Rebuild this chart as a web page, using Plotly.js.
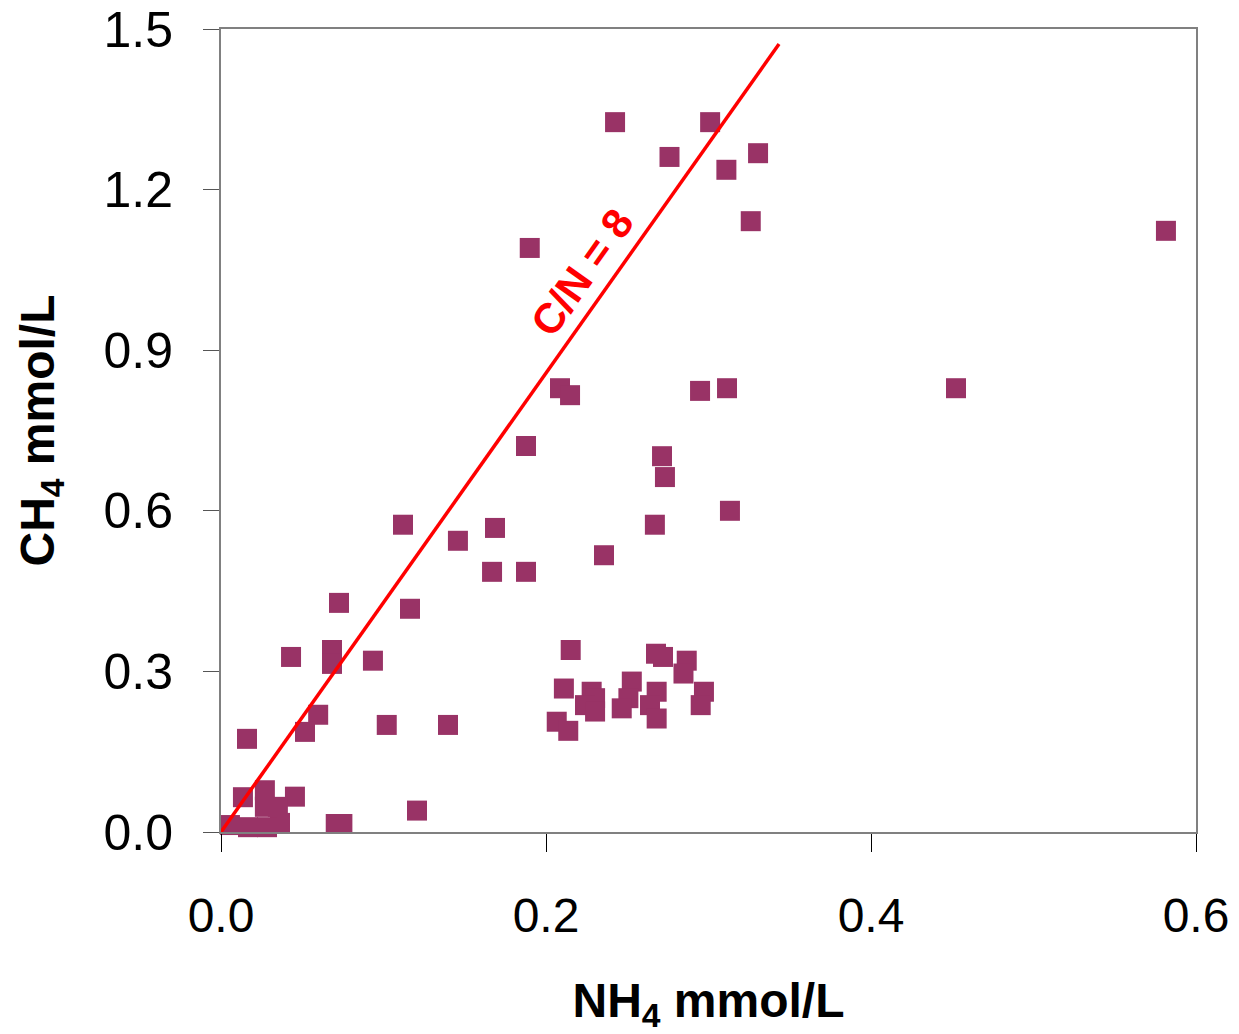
<!DOCTYPE html>
<html>
<head>
<meta charset="utf-8">
<script src="https://cdn.plot.ly/plotly-3.0.1.min.js"></script>
<style>html,body{margin:0;padding:0;background:#fff;}#chart{width:1239px;height:1034px;}</style>
</head>
<body>
<div id="chart"></div>
<script>
const nh4 = [0.2425,0.301,0.276,0.3305,0.311,0.326,0.190,0.5815,0.2086,0.2148,0.2948,0.3114,0.4523,0.1877,0.2714,0.2732,0.112,0.267,0.3132,0.1458,0.1686,0.2357,0.1668,0.1877,0.0726,0.1163,0.0431,0.0683,0.0683,0.0935,0.2152,0.2677,0.2720,0.2866,0.2846,0.211,0.2281,0.2302,0.2240,0.2302,0.2528,0.2507,0.2466,0.2681,0.2640,0.2681,0.2972,0.2952,0.2066,0.2137,0.0598,0.0517,0.1020,0.1397,0.0160,0.0455,0.1206,0.0706,0.0747,0.0055,0.0135,0.027,0.027,0.035,0.0363,0.0166,0.0283];
const ch4 = [1.326,1.326,1.261,1.268,1.237,1.141,1.091,1.123,0.829,0.816,0.824,0.829,0.829,0.721,0.702,0.663,0.574,0.574,0.600,0.544,0.568,0.517,0.486,0.486,0.428,0.417,0.327,0.340,0.314,0.320,0.340,0.333,0.327,0.320,0.296,0.268,0.262,0.250,0.237,0.225,0.281,0.250,0.231,0.262,0.237,0.212,0.262,0.237,0.206,0.189,0.219,0.187,0.200,0.200,0.174,0.066,0.040,0.015,0.015,0.013,0.065,0.078,0.047,0.047,0.017,0.009,0.009];
const lineX = [0, 0.3434];
const lineY = [0, 1.472];
const lineLabel = 'C/N = 8';
const xTitle = 'NH<sub>4</sub> mmol/L';
const yTitle = 'CH<sub>4</sub> mmol/L';

const font = 'Liberation Sans, Arial, sans-serif';
const data = [
  {x: nh4, y: ch4, type: 'scatter', mode: 'markers', cliponaxis: false,
   marker: {symbol: 'square', size: 20, color: '#993366', line: {width: 0}}, hoverinfo: 'x+y'},
  {x: lineX, y: lineY, type: 'scatter', mode: 'lines', cliponaxis: false,
   line: {color: '#ff0000', width: 3.5}}
];
const layout = {
  width: 1239, height: 1034,
  margin: {l: 221, r: 43, t: 29, b: 202},
  paper_bgcolor: '#fff', plot_bgcolor: '#fff',
  showlegend: false,
  font: {family: font, color: '#000'},
  xaxis: {
    range: [0, 0.6], dtick: 0.2, tick0: 0, tickformat: '.1f',
    showgrid: false, zeroline: false,
    showline: true, linecolor: '#808080', linewidth: 2, mirror: true,
    ticks: 'outside', ticklen: 18, tickwidth: 1, tickcolor: '#000',
    ticklabelstandoff: 22,
    tickfont: {size: 48, family: font, color: '#000'},
    title: {text: xTitle, font: {size: 48, family: font, color: '#000', weight: 'bold'}, standoff: 48}
  },
  yaxis: {
    range: [0, 1.5], dtick: 0.3, tick0: 0, tickformat: '.1f',
    showgrid: false, zeroline: false,
    showline: true, linecolor: '#808080', linewidth: 2, mirror: true,
    ticks: 'outside', ticklen: 16, tickwidth: 1, tickcolor: '#555',
    ticklabelstandoff: 20,
    tickfont: {size: 50, family: font, color: '#000'},
    title: {text: yTitle, font: {size: 48, family: font, color: '#000', weight: 'bold'}, standoff: 34}
  },
  annotations: [{
    x: 0.222, y: 1.046, xref: 'x', yref: 'y', text: lineLabel, showarrow: false,
    textangle: -54.7, font: {size: 42, family: font, color: '#ff0000', weight: 'bold'},
    xanchor: 'center', yanchor: 'middle'
  }]
};
Plotly.newPlot('chart', data, layout, {displayModeBar: false, staticPlot: true});
</script>
</body>
</html>
